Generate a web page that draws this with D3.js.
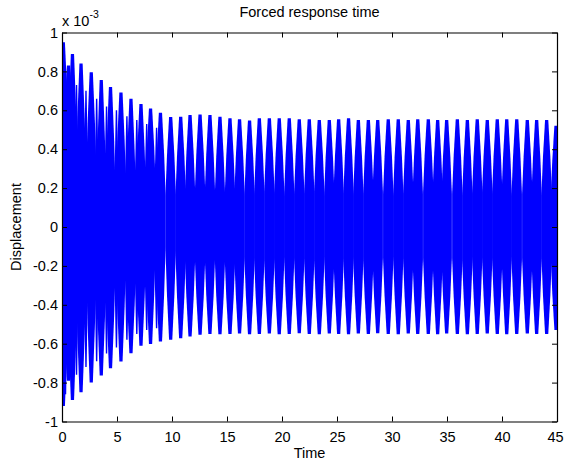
<!DOCTYPE html>
<html>
<head>
<meta charset="utf-8">
<title>Forced response time</title>
<script src="https://cdnjs.cloudflare.com/ajax/libs/d3/7.8.5/d3.min.js"></script>
<style>
  body { margin: 0; background: #fff; }
  svg { font-family: Arial, "Liberation Sans", sans-serif; }
</style>
</head>
<body>
<svg id="svg" width="564" height="461"></svg>
<script>
// displacement in units of 1e-3
// (each band = one beat of the dense oscillation)
const bandTime = [0.12, 0.59, 0.95, 1.73, 2.66, 3.57, 4.41, 5.36, 6.27, 7.18,
  8.05, 8.95, 9.88, 10.79, 11.64, 12.55, 13.45, 14.36, 15.27, 16.14,
  17.05, 17.94, 18.85, 19.75, 20.66, 21.57, 22.48, 23.39, 24.30, 25.15,
  26.05, 26.94, 27.85, 28.70, 29.66, 30.57, 31.48, 32.34, 33.30, 34.15,
  34.97, 35.94, 36.85, 37.75, 38.66, 39.57, 40.43, 41.34, 42.30, 43.15,
  44.06, 44.91];
const bandUpper = [0.95, 0.83, 0.89, 0.84, 0.795, 0.756, 0.72, 0.692, 0.66, 0.632,
  0.609, 0.588, 0.565, 0.567, 0.576, 0.579, 0.576, 0.567, 0.559, 0.554,
  0.548, 0.559, 0.559, 0.559, 0.559, 0.554, 0.554, 0.55, 0.55, 0.554,
  0.559, 0.55, 0.55, 0.55, 0.554, 0.554, 0.55, 0.554, 0.554, 0.55,
  0.55, 0.554, 0.55, 0.554, 0.55, 0.554, 0.554, 0.554, 0.55, 0.55,
  0.55, 0.52];
const bandLower = [-0.92, -0.79, -0.89, -0.85, -0.80, -0.764, -0.726, -0.692, -0.649, -0.611,
  -0.601, -0.589, -0.58, -0.572, -0.563, -0.554, -0.55, -0.552, -0.55, -0.548,
  -0.552, -0.55, -0.548, -0.552, -0.55, -0.546, -0.55, -0.552, -0.548, -0.55,
  -0.552, -0.548, -0.55, -0.546, -0.55, -0.552, -0.548, -0.55, -0.55, -0.552,
  -0.548, -0.55, -0.552, -0.55, -0.548, -0.55, -0.552, -0.55, -0.548, -0.55,
  -0.55, -0.53];
// level where neighbouring bands merge into the solid core
const gapUpper = [0.47, 0.41, 0.30, 0.27, 0.27, 0.13, 0.16, 0.19, 0.12, 0.15,
  0.20, 0.16, 0.17, 0.16, 0.17, 0.18, 0.17, 0.16, 0.17, 0.17,
  0.16, 0.17, 0.18, 0.17, 0.16, 0.17, 0.17, 0.18, 0.16, 0.17,
  0.17, 0.16, 0.17, 0.18, 0.17, 0.16, 0.17, 0.17, 0.18, 0.16,
  0.17, 0.17, 0.16, 0.17, 0.18, 0.17, 0.16, 0.17, 0.17, 0.16,
  0.17, 0.17];
const gapLower = [-0.40, -0.35, -0.29, -0.25, -0.20, -0.17, -0.18, -0.12, -0.15, -0.11,
  -0.09, -0.10, -0.12, -0.14, -0.15, -0.16, -0.15, -0.16, -0.17, -0.16,
  -0.15, -0.16, -0.17, -0.16, -0.15, -0.16, -0.16, -0.17, -0.15, -0.16,
  -0.16, -0.15, -0.17, -0.16, -0.16, -0.15, -0.16, -0.17, -0.16, -0.15,
  -0.16, -0.16, -0.17, -0.15, -0.16, -0.16, -0.15, -0.17, -0.16, -0.16,
  -0.15, -0.16];

// shorter side spikes seen next to the main spikes during the transient
const spikeTime = [0.32, 1.32, 2.18, 3.15, 4.05, 4.95, 5.90, 6.80, 7.70, 8.60];
const spikeUpper = [0.80, 0.73, 0.70, 0.66, 0.62, 0.60, 0.57, 0.55, 0.53, 0.51];
const spikeLower = [-0.86, -0.76, -0.72, -0.69, -0.65, -0.62, -0.58, -0.55, -0.53, -0.52];

const xTicks = [0, 5, 10, 15, 20, 25, 30, 35, 40, 45];
const yTicks = [-1, -0.8, -0.6, -0.4, -0.2, 0, 0.2, 0.4, 0.6, 0.8, 1];

const plotLeft = 62, plotRight = 557, plotTop = 32.5, plotBottom = 421.5;
const x = d3.scaleLinear().domain([0, 45]).range([plotLeft, plotRight]);
const y = d3.scaleLinear().domain([-1, 1]).range([plotBottom, plotTop]);

const svg = d3.select('#svg');

svg.append('clipPath').attr('id', 'plot')
  .append('rect').attr('x', plotLeft).attr('y', plotTop)
  .attr('width', plotRight - plotLeft).attr('height', plotBottom - plotTop);

// one spindle per beat, half above and half below zero
const line = d3.line().curve(d3.curveLinearClosed);

function halfBand(t, peak, gap, baseHalf, midHalf, topHalf) {
  const cx = x(t);
  const mid = (peak + gap) / 2;
  return [
    [cx - baseHalf, y(0)], [cx - baseHalf, y(gap)], [cx - midHalf, y(mid)], [cx - topHalf, y(peak)],
    [cx + topHalf, y(peak)], [cx + midHalf, y(mid)], [cx + baseHalf, y(gap)], [cx + baseHalf, y(0)]
  ];
}

const g = svg.append('g').attr('clip-path', 'url(#plot)');
bandTime.forEach((t, i) => {
  g.append('path').attr('d', line(halfBand(t, bandUpper[i], gapUpper[i], 5.2, 3.7, 1.6)))
    .attr('fill', '#0000ff');
  g.append('path').attr('d', line(halfBand(t, bandLower[i], gapLower[i], 5.2, 3.7, 1.6)))
    .attr('fill', '#0000ff');
});
spikeTime.forEach((t, i) => {
  g.append('path').attr('d', line(halfBand(t, spikeUpper[i], 0.2, 2.2, 1.4, 0.7)))
    .attr('fill', '#0000ff');
  g.append('path').attr('d', line(halfBand(t, spikeLower[i], -0.2, 2.2, 1.4, 0.7)))
    .attr('fill', '#0000ff');
});

// box axes, ticks pointing inward
const fmt = d => String(+d.toFixed(1));
const xAxis = svg.append('g').attr('transform', `translate(0,${plotBottom})`)
  .call(d3.axisBottom(x).tickValues(xTicks).tickSizeInner(-5).tickSizeOuter(0).tickPadding(10).tickFormat(fmt));
svg.append('g').attr('transform', `translate(0,${plotTop})`)
  .call(d3.axisTop(x).tickValues(xTicks).tickSizeInner(-5).tickSizeOuter(0).tickFormat(''));
svg.append('g').attr('transform', `translate(${plotLeft},0)`)
  .call(d3.axisLeft(y).tickValues(yTicks).tickSizeInner(-5).tickSizeOuter(0).tickPadding(4).tickFormat(fmt));
svg.append('g').attr('transform', `translate(${plotRight},0)`)
  .call(d3.axisRight(y).tickValues(yTicks).tickSizeInner(-5).tickSizeOuter(0).tickFormat(''));

svg.selectAll('.domain').attr('stroke', '#000').attr('stroke-width', 1.2);
svg.selectAll('.tick line').attr('stroke', '#000');
svg.selectAll('.tick text').attr('font-size', 14.5).attr('fill', '#000')
  .attr('font-family', 'Arial, "Liberation Sans", sans-serif');
// last label sits against the window edge
xAxis.selectAll('.tick text').filter(d => d === 45).attr('dx', -2);

svg.append('text').attr('x', (plotLeft + plotRight) / 2).attr('y', 17)
  .attr('text-anchor', 'middle').attr('font-size', 14.5).text('Forced response time');
svg.append('text').attr('x', (plotLeft + plotRight) / 2).attr('y', 458)
  .attr('text-anchor', 'middle').attr('font-size', 14.5).text('Time');
svg.append('text').attr('transform', `translate(21,${(plotTop + plotBottom) / 2}) rotate(-90)`)
  .attr('text-anchor', 'middle').attr('font-size', 14.5).text('Displacement');

const exp = svg.append('text').attr('x', plotLeft).attr('y', 26).attr('font-size', 14.5);
exp.append('tspan').text('x 10');
exp.append('tspan').attr('dy', -8).attr('font-size', 10.5).text('-3');
</script>
</body>
</html>
